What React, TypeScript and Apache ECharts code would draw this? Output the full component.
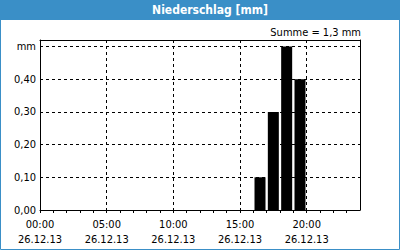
import React, { useEffect, useRef } from "react";
import * as echarts from "echarts";

const titleText = "Niederschlag [mm]";
const unitLabel = "mm";
const dateLabel = "26.12.13";
const barHours = [16, 17, 18, 19];
const barValues = [0.1, 0.3, 0.5, 0.4];
const xMin = 0;
const xMax = 24;
const yMax = 0.52;

const FONT = "Tahoma, 'DejaVu Sans Condensed', 'DejaVu Sans', sans-serif";
const BLUE = "#3a8fc7";

export default function App() {
  const ref = useRef<HTMLDivElement>(null);
  useEffect(() => {
    if (!ref.current) return;
    const chart = echarts.init(ref.current, undefined, { renderer: "svg" });
    const total = barValues.reduce((a, b) => a + b, 0);
    const sumText = "Summe = " + total.toFixed(1).replace(".", ",") + " mm";
    const pad = (n: number) => (n < 10 ? "0" + n : "" + n);
    const frameAxis = {
      type: "value",
      axisLine: { show: true, onZero: false, lineStyle: { color: "#000", width: 1 } },
      axisTick: { show: false },
      axisLabel: { show: false },
      splitLine: { show: false },
    };
    chart.setOption({
      animation: false,
      backgroundColor: "#ffffff",
      grid: { left: 40, top: 40, width: 320, height: 170, show: false },
      xAxis: [
        {
          type: "value",
          min: xMin,
          max: xMax,
          interval: 1,
          axisLine: { show: true, onZero: false, lineStyle: { color: "#000", width: 1 } },
          axisTick: { show: true, length: 3, lineStyle: { color: "#000" } },
          splitLine: { show: false },
          axisLabel: {
            margin: 7,
            color: "#000",
            fontFamily: FONT,
            fontSize: 11,
            lineHeight: 15,
            showMaxLabel: false,
            formatter: (v: number) => (v % 5 === 0 && v < xMax ? pad(v) + ":00\n" + dateLabel : ""),
          },
        },
        {
          type: "value",
          min: xMin,
          max: xMax,
          interval: 5,
          position: "bottom",
          axisLine: { show: false },
          axisTick: { show: false },
          axisLabel: { show: false },
          splitLine: { show: true, showMinLine: false, showMaxLine: false, lineStyle: { color: "#000", type: [3, 3], width: 1 } },
        },
        { ...frameAxis, min: xMin, max: xMax, position: "top" },
      ],
      yAxis: [
        {
          type: "value",
          min: 0,
          max: yMax,
          interval: 0.1,
          axisLine: { show: true, onZero: false, lineStyle: { color: "#000", width: 1 } },
          axisTick: { show: false },
          splitLine: { show: true, showMinLine: false, showMaxLine: false, lineStyle: { color: "#000", type: [3, 3], width: 1 } },
          axisLabel: {
            margin: 4,
            color: "#000",
            fontFamily: FONT,
            fontSize: 11,
            showMaxLabel: false,
            formatter: (v: number) => {
              if (Math.abs(v - 0.5) < 1e-6) return unitLabel;
              if (v > 0.5) return "";
              return v.toFixed(2).replace(".", ",");
            },
          },
        },
        { ...frameAxis, min: 0, max: yMax, position: "right" },
      ],
      series: [
        {
          type: "bar",
          xAxisIndex: 0,
          yAxisIndex: 0,
          barWidth: 11,
          itemStyle: { color: "#000" },
          data: barHours.map((h, i) => [h + 0.5, barValues[i]]),
        },
      ],
      graphic: [
        { type: "rect", shape: { x: 0.5, y: 0.5, width: 399, height: 249 }, style: { fill: "none", stroke: BLUE, lineWidth: 1 }, z: 10 },
        { type: "rect", shape: { x: 0, y: 0, width: 400, height: 20 }, style: { fill: BLUE }, z: 10 },
        {
          type: "text",
          x: 210,
          y: 10,
          z: 11,
          style: { text: titleText, fill: "#fff", font: "bold 12px " + FONT, textAlign: "center", textVerticalAlign: "middle" },
        },
        {
          type: "text",
          x: 361,
          y: 32,
          z: 11,
          style: { text: sumText, fill: "#000", font: "11px " + FONT, textAlign: "right", textVerticalAlign: "middle" },
        },
      ],
    });
    return () => chart.dispose();
  }, []);
  return <div ref={ref} style={{ position: "fixed", left: 0, top: 0, width: 400, height: 250 }} />;
}
